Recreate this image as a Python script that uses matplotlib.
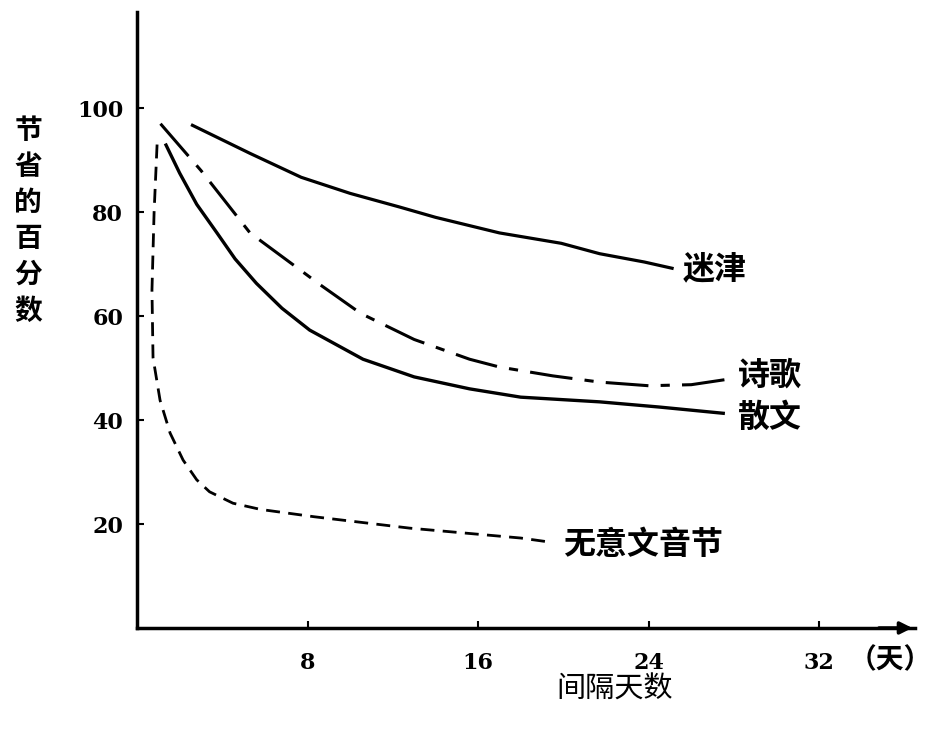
import matplotlib.pyplot as plt

plt.rcParams['font.family'] = ['Noto Sans CJK SC', 'DejaVu Sans']

# (days, percent saved)
mijin_x = [2.6, 5.3, 7.7, 10, 12.3, 14, 17, 19.9, 21.7, 23.8, 25.1]
mijin_y = [96.7, 91.3, 86.7, 83.6, 81.0, 79.0, 76.0, 74.0, 72.0, 70.4, 69.2]

shige_x = [1.1, 3.0, 5.3, 8.6, 10.5, 13, 15.6, 17, 19.5, 21.7, 24, 26, 27.8]
shige_y = [97, 88, 76, 66, 60.5, 55.5, 51.7, 50.2, 48.5, 47.3, 46.6, 46.8, 47.9]

sanwen_x = [1.36, 2.0, 2.8, 3.75, 4.6, 5.6, 6.8, 8.1, 10.6, 13, 15.6, 18, 21.7, 24.5, 27.5]
sanwen_y = [92.9, 87.5, 81.5, 76, 71, 66.3, 61.5, 57.3, 51.7, 48.3, 46, 44.4, 43.5, 42.5, 41.3]

wuyi_x = [0.94, 0.8, 0.7, 0.75, 1.08, 1.55, 2.16, 2.8, 3.4, 4.5, 5.8, 8.3, 12.8, 18, 19.4]
wuyi_y = [93, 80, 65, 52, 43.8, 37.5, 32.3, 28.5, 26.2, 24, 22.8, 21.4, 19.2, 17.3, 16.5]

x_ticks = [8, 16, 24, 32]
y_ticks = [20, 40, 60, 80, 100]

fig = plt.figure(figsize=(9.31, 7.4), dpi=100)
ax = fig.add_axes([0.1472, 0.1514, 0.8357, 0.8324])
ax.set_xlim(0, 36.5)
ax.set_ylim(0, 118.5)

ax.plot(mijin_x, mijin_y, color='black', lw=2.3)
ax.plot(shige_x, shige_y, color='black', lw=2.2, dashes=(14, 4, 3, 4))
ax.plot(sanwen_x, sanwen_y, color='black', lw=2.4)
ax.plot(wuyi_x, wuyi_y, color='black', lw=2.0, dashes=(5, 3))

# curve labels
lab = dict(fontsize=23, va='center', ha='left', fontweight='bold')
ax.text(25.6, 69, '迷津', **lab)
ax.text(28.2, 48.6, '诗歌', **lab)
ax.text(28.2, 40.4, '散文', **lab)
ax.text(20.0, 16.0, '无意文音节', **lab)

for s in ['top', 'right']:
    ax.spines[s].set_visible(False)
ax.spines['left'].set_linewidth(2.5)
ax.spines['bottom'].set_linewidth(2.5)

ax.set_xticks(x_ticks)
ax.set_yticks(y_ticks)
ax.set_xticklabels([str(t) for t in x_ticks], fontsize=16, fontweight='bold',
                   family='DejaVu Serif')
ax.set_yticklabels([str(t) for t in y_ticks], fontsize=16, fontweight='bold',
                   family='DejaVu Serif')
ax.tick_params(direction='in', length=5, width=1.5)
ax.tick_params(axis='x', pad=17)
ax.tick_params(axis='y', pad=10)

# arrow at the end of the x axis
ax.annotate('', xy=(1.0, 0), xytext=(0.95, 0), xycoords='axes fraction',
            arrowprops=dict(arrowstyle='-|>', color='black', lw=2.5,
                            mutation_scale=18))

fig.text(890 / 931, 1 - 660 / 740, '（天）', fontsize=20, ha='center', va='center',
         fontweight='bold')
fig.text(615 / 931, 1 - 690 / 740, '间隔天数', fontsize=21, ha='center', va='center')
fig.text(28 / 931, 1 - 221 / 740, '\n'.join('节省的百分数'), fontsize=20,
         ha='center', va='center', linespacing=1.36, fontweight='bold')

fig.savefig('out.png', dpi=100)
